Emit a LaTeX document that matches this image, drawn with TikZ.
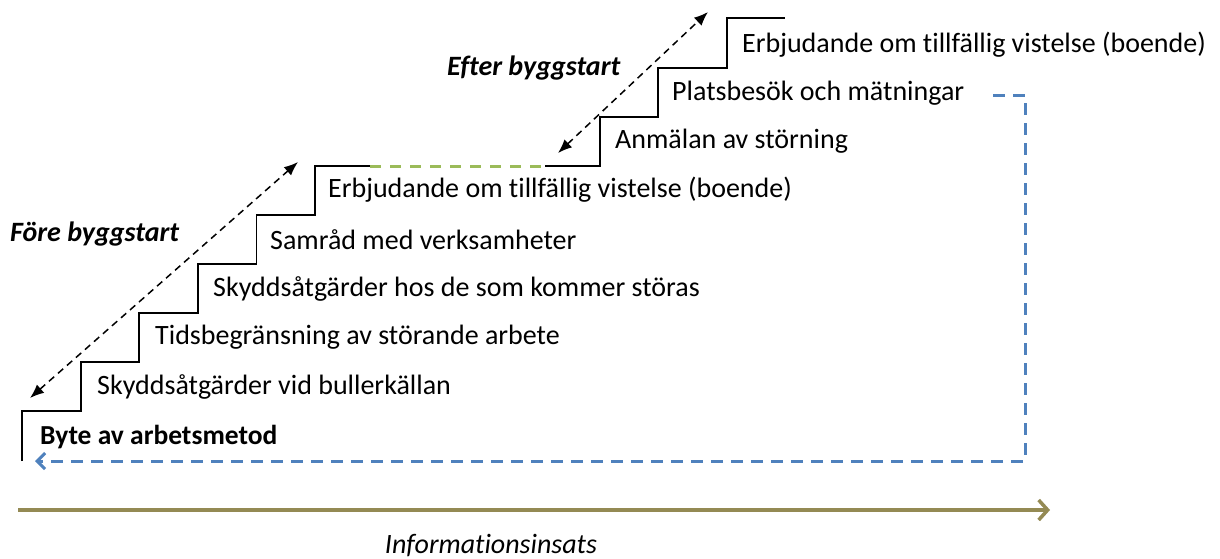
\documentclass[tikz,border=0pt]{standalone}
\usepackage{fontspec}
\setmainfont[RawFeature=-liga]{Carlito}
\usepackage{tikz}
\usetikzlibrary{arrows.meta}
\definecolor{stepblue}{HTML}{4F81BD}
\definecolor{stepgreen}{HTML}{9BBB59}
\definecolor{axisolive}{HTML}{948A54}
\tikzset{every picture/.style={x=1pt, y=-1pt}}
\tikzset{steplabel/.style={anchor=west, inner sep=0pt, font=\fontsize{28}{32}\selectfont}}
\tikzset{phaselabel/.style={anchor=west, inner sep=0pt, font=\fontsize{28}{32}\selectfont\bfseries\itshape}}
\tikzset{stair/.style={line width=1.8pt, line join=miter}}
\tikzset{phasearrow/.style={line width=1.5pt, dash pattern=on 7pt off 5pt, {Latex[length=14pt,width=11pt]}-{Latex[length=14pt,width=11pt]}}}

\begin{document}
\begin{tikzpicture}
\useasboundingbox (0,0) rectangle (1220,558);
% staircase before the start of building
\draw[stair] (22,461) -- (22,411)
  \foreach \i in {1,...,5} { -- ({22+58.6*\i},{411-49*(\i-1)}) -- ({22+58.6*\i},{411-49*\i}) }
  -- (370,166);
\draw[stepgreen, line width=3pt, dash pattern=on 11pt off 9pt] (370,166) -- (545,166);
% staircase after the start of building
\draw[stair] (545,166) -- (600,166) -- (600,117) -- (658,117) -- (658,68)
  -- (727,68) -- (727,18) -- (785,18);
% labels of the steps
\node[steplabel, font=\fontsize{27.5}{32}\selectfont\bfseries] (b0) at (40,437) {Byte av arbetsmetod};
\node[steplabel] (b1) at (97,387) {Skyddsåtgärder vid bullerkällan};
\node[steplabel] (b2) at (155,337) {Tidsbegränsning av störande arbete};
\node[steplabel] (b3) at (213,289) {Skyddsåtgärder hos de som kommer störas};
\node[steplabel] (b4) at (270,240) {Samråd med verksamheter};
\node[steplabel] (b5) at (328,190) {Erbjudande om tillfällig vistelse (boende)};
\node[steplabel] (a1) at (615,141) {Anmälan av störning};
\node[steplabel] (a2) at (672,93) {Platsbesök och mätningar};
\node[steplabel] (a3) at (742,45) {Erbjudande om tillfällig vistelse (boende)};
% phases
\node[phaselabel] (fore) at (10,234) {Före byggstart};
\node[phaselabel] (efter) at (447,68) {Efter byggstart};
\coordinate (fore1) at (30,398);
\coordinate (fore2) at (298,162);
\coordinate (efter1) at (558,153);
\coordinate (efter2) at (708,12);
\draw[phasearrow] (fore1) -- (fore2);
\draw[phasearrow] (efter1) -- (efter2);
% feedback back to the first step
\coordinate (ret1) at (993,95);
\coordinate (ret2) at (1025,95);
\coordinate (ret3) at (1025,461);
\coordinate (ret4) at (35,461);
\draw[stepblue, line width=3pt, dash pattern=on 12pt off 8pt, -{Straight Barb[length=8pt,width=16pt]}]
  (ret1) -- (ret2) -- (ret3) -- (ret4);
% information axis
\coordinate (ax1) at (18,510);
\coordinate (ax2) at (1050,510);
\draw[axisolive, line width=3.5pt, -{Straight Barb[length=9pt,width=20pt]}] (ax1) -- (ax2);
\node[steplabel, anchor=center, font=\fontsize{28}{32}\selectfont\itshape] (info) at (491,545) {Informationsinsats};
\end{tikzpicture}
\end{document}
